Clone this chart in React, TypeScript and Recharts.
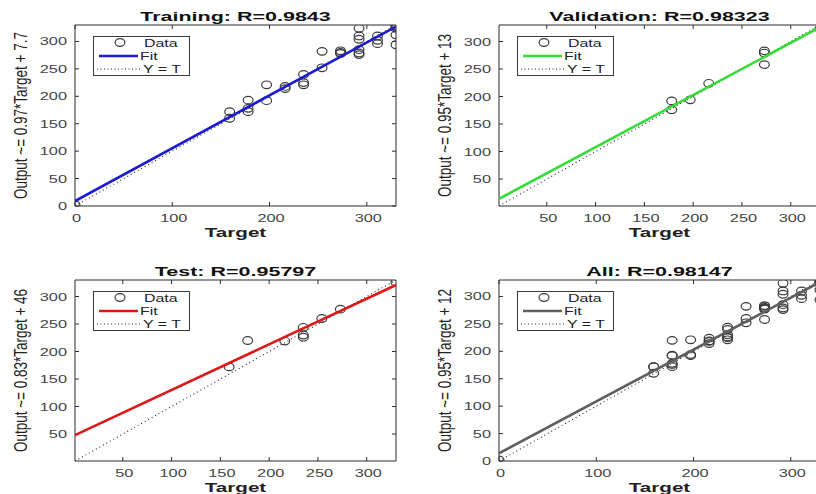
import React from 'react';
import { ScatterChart, Scatter, XAxis, YAxis, Legend } from 'recharts';

// Regression plots (MATLAB plotregression style), 2x2 grid
const FONT = '"Liberation Sans", Arial, sans-serif';
const AXIS = '#2b2b2b';
const INK = '#3a3a3a';
const PLOT_W = 410 - 75 - 14;

// targets vs network outputs
const trainingData = [
  { x: 0, y: 2 }, { x: 159, y: 160 }, { x: 159, y: 172 }, { x: 178, y: 193 }, { x: 178, y: 178 },
  { x: 178, y: 172 }, { x: 197, y: 192 }, { x: 197, y: 221 }, { x: 216, y: 218 }, { x: 216, y: 214 },
  { x: 235, y: 240 }, { x: 235, y: 225 }, { x: 235, y: 221 }, { x: 254, y: 282 }, { x: 254, y: 252 },
  { x: 273, y: 283 }, { x: 273, y: 280 }, { x: 273, y: 278 }, { x: 292, y: 324 }, { x: 292, y: 310 },
  { x: 292, y: 304 }, { x: 292, y: 285 }, { x: 292, y: 279 }, { x: 292, y: 276 }, { x: 311, y: 310 },
  { x: 311, y: 302 }, { x: 311, y: 296 }, { x: 330, y: 324 }, { x: 330, y: 326 }, { x: 330, y: 328 },
  { x: 330, y: 312 }, { x: 330, y: 294 },
];
const validationData = [
  { x: 178, y: 192 }, { x: 178, y: 176 }, { x: 197, y: 194 }, { x: 216, y: 224 },
  { x: 273, y: 283 }, { x: 273, y: 279 }, { x: 273, y: 258 }, { x: 330, y: 323 },
];
const testData = [
  { x: 159, y: 172 }, { x: 178, y: 220 }, { x: 216, y: 219 }, { x: 235, y: 244 }, { x: 235, y: 230 },
  { x: 235, y: 226 }, { x: 254, y: 260 }, { x: 273, y: 277 }, { x: 330, y: 326 },
];
const allData = [...trainingData, ...validationData, ...testData];

// fit line end points
const trainingFit = [{ x: 0, y: 9 }, { x: 330, y: 327 }];
const validationFit = [{ x: 1, y: 14 }, { x: 330, y: 326 }];
const testFit = [{ x: 1, y: 48 }, { x: 330, y: 321 }];
const allFit = [{ x: 0, y: 14 }, { x: 330, y: 326 }];

const identityFull = [{ x: 0, y: 0 }, { x: 330, y: 330 }];
const identityShort = [{ x: 1, y: 1 }, { x: 330, y: 330 }];

const ticksWide = [0, 100, 200, 300];
const ticksFifty = [0, 50, 100, 150, 200, 250, 300];
const ticksNoZero = [50, 100, 150, 200, 250, 300];

const Ring = (p: any) => (
  <ellipse cx={p.cx} cy={p.cy} rx={4.9} ry={3.8} fill="none" stroke={INK} strokeWidth={1.2} />
);
const Nothing = () => <g />;

const BottomTick = ({ x, y, payload }: any) => (
  <text transform={`translate(${x + 1.5},${y + 15.5}) scale(1.42,1)`} textAnchor="middle"
    fontSize={11.5} fontFamily={FONT} fill="#444">{payload.value}</text>
);
const LeftTick = ({ x, y, payload }: any) => (
  <text transform={`translate(${x},${y + 4}) scale(1.42,1)`} textAnchor="end"
    fontSize={11.5} fontFamily={FONT} fill="#444">{payload.value}</text>
);

const XLabel = ({ viewBox }: any) => (
  <text transform={`translate(${viewBox.x + viewBox.width / 2},${viewBox.y + 30.5}) scale(1.65,1)`}
    textAnchor="middle" fontSize={12.5} fontWeight="bold" fontFamily={FONT} fill="#222">Target</text>
);
// y label plus the panel title (placed from the left axis box)
const YLabel = ({ viewBox, text, title }: any) => (
  <g>
    <text transform={`translate(${viewBox.x + 20.5},${viewBox.y + viewBox.height / 2}) rotate(-90) scale(1,1.4)`}
      textAnchor="middle" dominantBaseline="central" fontSize={13.5} fontFamily={FONT} fill="#222">{text}</text>
    <text transform={`translate(${viewBox.x + viewBox.width + PLOT_W / 2},${viewBox.y - 4.5}) scale(1.72,1)`}
      textAnchor="middle" fontSize={12.5} fontWeight="bold" fontFamily={FONT} fill="#111">{title}</text>
  </g>
);

const LegendBox = ({ color }: { color: string }) => {
  const t = { fontSize: 11, fontFamily: FONT, fill: '#222' };
  return (
    <svg width={97} height={40} style={{ display: 'block' }}>
      <rect x={0.5} y={0.5} width={96} height={39} fill="#fff" stroke={INK} />
      <ellipse cx={27} cy={6.5} rx={4.9} ry={3.8} fill="none" stroke={INK} strokeWidth={1.2} />
      <text transform="translate(51,10.5) scale(1.45,1)" {...t}>Data</text>
      <line x1={6} x2={45} y1={20} y2={20} stroke={color} strokeWidth={2.6} />
      <text transform="translate(47,23.5) scale(1.45,1)" {...t}>Fit</text>
      <line x1={4} x2={47} y1={33} y2={33} stroke="#222" strokeDasharray="1 2.5" />
      <text transform="translate(50,37) scale(1.45,1)" {...t}>Y = T</text>
    </svg>
  );
};

type PanelProps = {
  left: number; top: number; title: string; yLabel: string; color: string;
  data: { x: number; y: number }[]; fit: { x: number; y: number }[]; identity: { x: number; y: number }[];
  domain: [number, number]; xTicks: number[]; yTicks: number[];
};

const Panel = ({ left, top, title, yLabel, color, data, fit, identity, domain, xTicks, yTicks }: PanelProps) => (
  <div style={{ position: 'absolute', left, top }}>
    <ScatterChart width={410} height={245} margin={{ top: 24, right: 13, bottom: 0, left: 0 }}>
      <XAxis xAxisId="b" type="number" dataKey="x" domain={domain} ticks={xTicks} interval={0} allowDataOverflow
        orientation="bottom" height={39} stroke={AXIS} tickSize={-4} tickMargin={4} tick={<BottomTick />}
        label={<XLabel />} />
      <XAxis xAxisId="t" type="number" dataKey="x" domain={domain} ticks={xTicks} interval={0} allowDataOverflow
        orientation="top" height={1} stroke={AXIS} tickSize={-4} tick={Nothing} />
      <YAxis yAxisId="l" type="number" dataKey="y" domain={domain} ticks={yTicks} interval={0} allowDataOverflow
        orientation="left" width={75} stroke={AXIS} tickSize={-4} tickMargin={12} tick={<LeftTick />}
        label={<YLabel text={yLabel} title={title} />} />
      <YAxis yAxisId="r" type="number" dataKey="y" domain={domain} ticks={yTicks} interval={0} allowDataOverflow
        orientation="right" width={1} stroke={AXIS} tickSize={-4} tick={Nothing} />
      <Legend layout="vertical" align="center" verticalAlign="middle"
        wrapperStyle={{ left: 93, top: 36, width: 97, height: 40 }}
        content={() => <LegendBox color={color} />} />
      <Scatter xAxisId="b" yAxisId="l" data={identity} shape={Nothing} isAnimationActive={false}
        line={{ stroke: '#222', strokeWidth: 1.1, strokeDasharray: '1 3' }} legendType="none" />
      <Scatter xAxisId="b" yAxisId="l" data={data} shape={Ring} isAnimationActive={false} legendType="none" />
      <Scatter xAxisId="b" yAxisId="l" data={fit} shape={Nothing} isAnimationActive={false}
        line={{ stroke: color, strokeWidth: 2.6 }} legendType="none" />
    </ScatterChart>
  </div>
);

export default function App() {
  return (
    <div style={{ position: 'absolute', left: 0, top: 0, width: 816, height: 494, overflow: 'hidden', background: '#fff' }}>
      <Panel left={0} top={0} title="Training: R=0.9843" yLabel="Output ~= 0.97*Target + 7.7" color="#1a1ad0"
        data={trainingData} fit={trainingFit} identity={identityFull} domain={[0, 330]}
        xTicks={ticksWide} yTicks={ticksFifty} />
      <Panel left={423.5} top={0} title="Validation: R=0.98323" yLabel="Output ~= 0.95*Target + 13" color="#35dc35"
        data={validationData} fit={validationFit} identity={identityShort} domain={[1, 330]}
        xTicks={ticksNoZero} yTicks={ticksNoZero} />
      <Panel left={0} top={255} title="Test: R=0.95797" yLabel="Output ~= 0.83*Target + 46" color="#dc1818"
        data={testData} fit={testFit} identity={identityShort} domain={[1, 330]}
        xTicks={ticksNoZero} yTicks={ticksNoZero} />
      <Panel left={423.5} top={255} title="All: R=0.98147" yLabel="Output ~= 0.95*Target + 12" color="#5f5f5f"
        data={allData} fit={allFit} identity={identityFull} domain={[0, 330]}
        xTicks={ticksWide} yTicks={ticksFifty} />
    </div>
  );
}
